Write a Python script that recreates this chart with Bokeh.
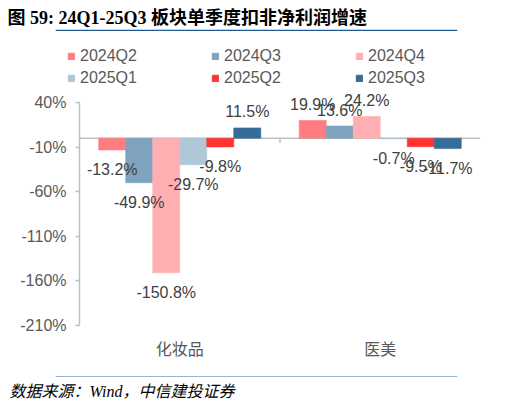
from bokeh.plotting import figure
from bokeh.models import (ColumnDataSource, FactorRange, Range1d, FixedTicker,
                          PrintfTickFormatter, Label, Legend, LegendItem)
from bokeh.layouts import column
from bokeh.transform import dodge
from bokeh.core.properties import value
from bokeh.embed import file_html
from bokeh.resources import INLINE

# ---- data ----
categories = ["化妆品", "医美"]
series = ["2024Q2", "2024Q3", "2024Q4", "2025Q1", "2025Q2", "2025Q3"]
v_2024q2 = [-13.2, 19.9]
v_2024q3 = [-49.9, 13.6]
v_2024q4 = [-150.8, 24.2]
v_2025q1 = [-29.7, -0.7]
v_2025q2 = [-9.8, -9.5]
v_2025q3 = [11.5, -11.7]
y_ticks = [40, -10, -60, -110, -160, -210]
title_text = "图 59: 24Q1-25Q3 板块单季度扣非净利润增速"
source_text = "数据来源：Wind，中信建投证券"

values = [v_2024q2, v_2024q3, v_2024q4, v_2025q1, v_2025q2, v_2025q3]
colors = ["#FF7C80", "#7FA3BE", "#FFAFB1", "#AFC7D7", "#FF3333", "#366C96"]

W = 512
HEAD_H, MAIN_H, FOOT_H = 88, 279, 40
FONT = "Liberation Sans, Arial, Noto Sans CJK SC"
SERIF = "Liberation Serif, Noto Sans CJK SC"
AX = "#BFBFBF"
TXT = "#595959"

# frame of the main chart (px inside the main figure)
F_LEFT, F_RIGHT, F_TOP, F_BOT = 79, 480, 0, 237
Y_LO, Y_HI = -210, 40
AXIS_TOP_PX = 102 - HEAD_H          # where 40% sits inside the main figure
px_per_unit = (F_BOT - AXIS_TOP_PX) / (Y_HI - Y_LO)
y_end = Y_HI + (AXIS_TOP_PX - F_TOP) / px_per_unit

xr = FactorRange(*categories, range_padding=0, factor_padding=0)


def bare(height):
    # decoration figure: data units equal pixels, y measured upward
    f = figure(width=W, height=height, output_backend="svg", toolbar_location=None,
               x_range=Range1d(0, W), y_range=Range1d(0, height),
               x_axis_location=None, y_axis_location=None,
               min_border=0, min_border_left=0, min_border_right=0,
               min_border_top=0, min_border_bottom=0)
    f.frame_align = False
    f.title.visible = False
    f.outline_line_color = None
    f.xgrid.grid_line_color = None
    f.ygrid.grid_line_color = None
    return f


def rule(f, x_left, x_right, y_bottom, thickness, color):
    # a horizontal rule drawn as a legend swatch (x, y in px from bottom-left)
    r = f.vbar(x=[0], top=[0], bottom=[0], width=0, fill_color=color,
               line_color=None, visible=False)
    f.add_layout(Legend(items=[LegendItem(label=" ", renderers=[r])],
                        location=(int(x_left), int(y_bottom)), padding=0, margin=0,
                        spacing=0, glyph_width=int(x_right - x_left),
                        glyph_height=int(thickness), label_standoff=0,
                        label_width=0, label_height=int(thickness),
                        label_text_font_size="1px",
                        border_line_alpha=0, background_fill_alpha=0,
                        inactive_fill_alpha=0), "center")


# ---------------- main chart ----------------
p = figure(width=W, height=MAIN_H, output_backend="svg", toolbar_location=None,
           x_range=xr, y_range=Range1d(Y_LO, y_end),
           min_border_left=F_LEFT, min_border_right=W - F_RIGHT,
           min_border_top=F_TOP, min_border_bottom=MAIN_H - F_BOT)
p.frame_align = False
p.title.visible = False
p.outline_line_color = None
p.xgrid.grid_line_color = None
p.ygrid.grid_line_color = None

ya = p.yaxis[0]
ya.ticker = FixedTicker(ticks=y_ticks)
ya.bounds = (Y_LO, Y_HI)
ya.formatter = PrintfTickFormatter(format="%d%%")
ya.axis_line_color = AX
ya.axis_line_width = 1.5
ya.major_tick_line_color = AX
ya.major_tick_line_width = 1.5
ya.major_tick_out = 4
ya.major_tick_in = 0
ya.minor_tick_line_color = None
ya.major_label_text_font = FONT
ya.major_label_text_font_size = "16px"
ya.major_label_text_color = TXT
ya.major_label_standoff = 9

xa = p.xaxis[0]
xa.axis_line_color = None
xa.major_tick_line_color = None
xa.major_tick_out = 0
xa.major_tick_in = 0
xa.minor_tick_line_color = None
xa.major_label_text_font = "Noto Sans CJK SC"
xa.major_label_text_font_size = "16px"
xa.major_label_text_color = TXT
xa.major_label_standoff = 10

# zero line across both categories
zsrc = ColumnDataSource(dict(c0=[categories[0]], c1=[categories[-1]], y=[0]))
p.segment(x0=dodge("c0", -0.5, range=xr), x1=dodge("c1", 0.5, range=xr),
          y0="y", y1="y", source=zsrc, line_color=AX, line_width=1.5)
# small tick between the two groups on the zero line
tsrc = ColumnDataSource(dict(cat=[categories[0]], y0=[0], y1=[-5]))
p.segment(x0=dodge("cat", 0.5, range=xr), x1=dodge("cat", 0.5, range=xr),
          y0="y0", y1="y1", source=tsrc, line_color=AX, line_width=1.5)

bw = 0.1347
offsets = [(-2.5 + i) * bw for i in range(6)]
sources = []
for i, (vals, col) in enumerate(zip(values, colors)):
    src = ColumnDataSource(dict(
        cat=categories, val=vals,
        lab=["%.1f%%" % v for v in vals],
        yoff=[20 if v < 0 else -16 for v in vals],
    ))
    sources.append(src)
    p.vbar(x=dodge("cat", offsets[i], range=xr), top="val", bottom=0,
           width=bw, source=src, fill_color=col, line_color=col, line_alpha=0.6)
for i, src in enumerate(sources):
    p.text(x=dodge("cat", offsets[i], range=xr), y="val", text="lab",
           y_offset="yoff", source=src, text_align="center", text_baseline="middle",
           text_font=value(FONT), text_font_size="16px", text_color="#404040")

# ---------------- header: title, rule, legend ----------------
head = bare(HEAD_H)
head.add_layout(Label(x=7, y=HEAD_H - 7, text=title_text, text_font=SERIF,
                      text_font_style="bold", text_font_size="18px",
                      text_color="#000000", text_baseline="top", text_align="left"))
rule(head, 5, 507, HEAD_H - 31, 2, "#1F5A96")

legend_items = []
for name, col in zip(series, colors):
    r = head.vbar(x=[0], top=[0], bottom=[0], width=0, fill_color=col,
                  line_color=col, visible=False)
    legend_items.append(LegendItem(label=name, renderers=[r]))
legend = Legend(items=legend_items, orientation="horizontal", ncols=3,
                location=(67, HEAD_H - 89), padding=0, margin=0, spacing=0,
                glyph_width=8, glyph_height=8, label_standoff=5,
                label_width=131, label_height=22,
                border_line_alpha=0, background_fill_alpha=0,
                inactive_fill_alpha=0,
                label_text_font=FONT, label_text_font_size="16px",
                label_text_color=TXT)
head.add_layout(legend, "center")

# ---------------- footer: rule and source ----------------
foot = bare(FOOT_H)
rule(foot, 5, 507, FOOT_H - 10, 1, "#2E6DA4")
foot.add_layout(Label(x=9, y=FOOT_H - 24, text=source_text, text_font=SERIF,
                      text_font_style="italic", text_font_size="16px",
                      text_color="#000000", text_baseline="middle", text_align="left"))

layout = column(head, p, foot, spacing=0)
open("out.html", "w").write(file_html(layout, INLINE))
